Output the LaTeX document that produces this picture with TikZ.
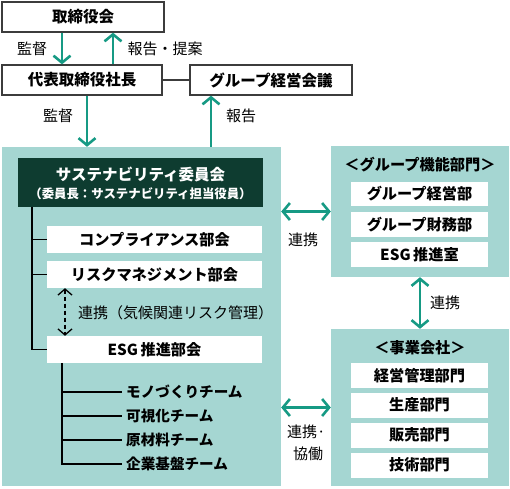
\documentclass[tikz,border=0pt]{standalone}
\usepackage{fontspec}
\setmainfont{Noto Sans CJK JP}
\usetikzlibrary{arrows.meta}
\definecolor{panel}{RGB}{165,214,210}
\definecolor{arr}{RGB}{22,154,132}
\definecolor{dark}{RGB}{14,60,48}
\definecolor{bord}{RGB}{60,60,60}
\tikzset{
  topbox/.style={draw=bord, line width=1.3pt, fill=white, inner sep=0pt, font=\fontsize{15.5}{18}\selectfont\bfseries},
  wbox/.style={fill=white, inner sep=0pt, font=\fontsize{15.2}{18}\selectfont\bfseries},
  panelbox/.style={fill=panel, inner sep=0pt},
  lbl/.style={inner sep=0pt, font=\fontsize{15}{18}\selectfont},
  ttl/.style={inner sep=0pt, font=\fontsize{15.2}{18}\selectfont\bfseries},
  team/.style={anchor=west, inner xsep=4pt, inner ysep=0pt, font=\fontsize{14.6}{18}\selectfont\bfseries},
  tarr/.style={draw=arr, line width=2.6pt, -{Straight Barb[length=7pt,width=17pt]}},
  tarrb/.style={draw=arr, line width=2.6pt, {Straight Barb[length=7pt,width=17pt]}-{Straight Barb[length=7pt,width=17pt]}},
  blk/.style={draw=black, line width=1.4pt},
  darr/.style={draw=black, line width=1.3pt, dash pattern=on 4pt off 3pt, {Straight Barb[length=6pt,width=14pt]}-{Straight Barb[length=6pt,width=14pt]}}
}
\begin{document}
\begin{tikzpicture}[x=1pt,y=-1pt]
\useasboundingbox (0,0) rectangle (510,488);
% top boxes
\node[topbox, minimum width=162, minimum height=30] (board) at (83,17) {取締役会};
\node[topbox, minimum width=160, minimum height=30] (ceo) at (82,80) {代表取締役社長};
\node[topbox, minimum width=162, minimum height=30] (gmm) at (271,80) {グループ経営会議};
\draw[draw=bord, line width=1.3pt] (ceo.east) -- (gmm.west);
% panels
\node[panelbox, minimum width=279, minimum height=339] (main) at (141.5,316.5) {};
\node[panelbox, minimum width=178, minimum height=131] (grp) at (420,211.5) {};
\node[panelbox, minimum width=178, minimum height=157] (biz) at (420,407.5) {};
% top arrows
\draw[tarr] ([xshift=-21]board.south) -- ([xshift=-21]board.south |- ceo.north);
\draw[tarr] ([xshift=31]ceo.north) -- ([xshift=31]ceo.north |- board.south);
\node[lbl] (l1) at (32,49) {監督};
\node[lbl] (l2) at (165,49) {報告・提案};
\draw[tarr] ([xshift=5]ceo.south) -- ([xshift=5]ceo.south |- main.north);
\draw[tarr] ([xshift=-60]gmm.south |- main.north) -- ([xshift=-60]gmm.south);
\node[lbl] (l3) at (58,116) {監督};
\node[lbl] (l4) at (241,116) {報告};
% committee header
\node[fill=dark, text=white, minimum width=245, minimum height=49, inner sep=0pt] (head) at (140.5,182.5) {};
\node[inner sep=0pt, text=white, font=\fontsize{15.5}{18}\selectfont\bfseries] (headt) at (140.5,174) {サステナビリティ委員会};
\node[inner sep=0pt, text=white, font=\fontsize{12.4}{15}\selectfont\bfseries] (heads) at (140.5,193.5) {（委員長：サステナビリティ担当役員）};
% sub committees
\node[wbox, minimum width=215, minimum height=27] (comp) at (154.5,239.5) {コンプライアンス部会};
\node[wbox, minimum width=215, minimum height=27] (risk) at (154.5,274.5) {リスクマネジメント部会};
\node[wbox, minimum width=215, minimum height=27] (esg) at (154.5,349.5) {ESG\,推進部会};
\coordinate (trunk) at ([xshift=-108.5]head.south);
\draw[blk] (trunk) |- (esg.west);
\draw[blk] (trunk |- comp.west) -- (comp.west);
\draw[blk] (trunk |- risk.west) -- (risk.west);
\coordinate (dv) at ([xshift=-89.5]risk.south);
\draw[darr] (dv) -- (dv |- esg.north);
\node[lbl, anchor=west] (l5) at (78,313) {連携（気候関連リスク管理）};
% teams
\node[team] (t1) at (122,392) {モノづくりチーム};
\node[team] (t2) at (122,416) {可視化チーム};
\node[team] (t3) at (122,440) {原材料チーム};
\node[team] (t4) at (122,464) {企業基盤チーム};
\coordinate (et) at ([xshift=-92.5]esg.south);
\draw[blk] (et) |- (t4.west);
\draw[blk] (et |- t1.west) -- (t1.west);
\draw[blk] (et |- t2.west) -- (t2.west);
\draw[blk] (et |- t3.west) -- (t3.west);
% group function panel
\node[ttl] (gt) at (420,165) {＜グループ機能部門＞};
\node[wbox, minimum width=137, minimum height=24] (g1) at (419.5,194) {グループ経営部};
\node[wbox, minimum width=137, minimum height=25] (g2) at (419.5,224.5) {グループ財務部};
\node[wbox, minimum width=137, minimum height=25] (g3) at (419.5,254.5) {ESG\,推進室};
% business companies panel
\node[ttl] (bt) at (420,348) {＜事業会社＞};
\node[wbox, minimum width=137, minimum height=25] (b1) at (419.5,375.5) {経営管理部門};
\node[wbox, minimum width=137, minimum height=25] (b2) at (419.5,405) {生産部門};
\node[wbox, minimum width=137, minimum height=25] (b3) at (419.5,435) {販売部門};
\node[wbox, minimum width=137, minimum height=25] (b4) at (419.5,465) {技術部門};
% connecting arrows
\draw[tarrb] (main.east |- grp.west) -- (grp.west);
\draw[tarrb] (main.east |- biz.west) -- (biz.west);
\draw[tarrb] (grp.south) -- (biz.north);
\node[lbl] (l6) at (303,240) {連携};
\node[lbl, anchor=north west] (l7a) at (287,425) {連携·};
\node[lbl, anchor=north] (l7b) at (308,447) {協働};
\node[lbl] (l8) at (445,303) {連携};
\end{tikzpicture}
\end{document}
